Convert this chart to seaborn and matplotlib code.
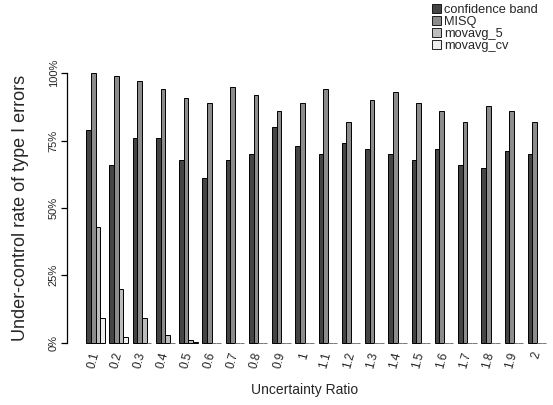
import matplotlib
matplotlib.use("Agg")
import matplotlib.pyplot as plt
import seaborn as sns
import pandas as pd
from matplotlib.patches import Patch

ratios = ["0.1", "0.2", "0.3", "0.4", "0.5", "0.6", "0.7", "0.8", "0.9", "1",
          "1.1", "1.2", "1.3", "1.4", "1.5", "1.6", "1.7", "1.8", "1.9", "2"]
series = ["confidence band", "MISQ", "movavg_5", "movavg_cv"]
confidence_band = [79, 66, 76, 76, 68, 61, 68, 70, 80, 73, 70, 74, 72, 70, 68, 72, 66, 65, 71, 70]
misq = [100, 99, 97, 94, 91, 89, 95, 92, 86, 89, 94, 82, 90, 93, 89, 86, 82, 88, 86, 82]
movavg_5 = [43, 20, 9, 3, 1, 0, 0, 0, 0, 0, 0, 0, 0, 0, 0, 0, 0, 0, 0, 0]
movavg_cv = [9, 2, 0, 0, 0.3, 0, 0, 0, 0, 0, 0, 0, 0, 0, 0, 0, 0, 0, 0, 0]
colors = ["#444444", "#8c8c8c", "#bdbdbd", "#eeeeee"]

values = [confidence_band, misq, movavg_5, movavg_cv]
rows = []
for s, vals in zip(series, values):
    for r, v in zip(ratios, vals):
        rows.append({"ratio": r, "series": s, "value": v})
df = pd.DataFrame(rows)

sns.set_style("white")
plt.rcParams["font.family"] = ["Liberation Sans", "DejaVu Sans"]

W, H = 553, 405
fig = plt.figure(figsize=(W / 100, H / 100), dpi=100)
left, right = 67 / W, 1.0
bottom, top = (H - 342.7) / H, (H - 73.3) / H
ax = fig.add_axes([left, bottom, right - left, top - bottom])

sns.barplot(data=df, x="ratio", y="value", hue="series", order=ratios,
            hue_order=series, palette=colors, edgecolor="black",
            linewidth=0.7, width=0.8, legend=False, ax=ax)
for p in ax.patches:
    p.set_clip_on(False)
    if p.get_height() == 0:
        p.set_edgecolor("#777777")

ax.set_xlim(-(95.5 - 67) / 23.24, (553 - 95.5) / 23.24)
ax.set_ylim(0, 100)
for s in ["top", "right", "bottom"]:
    ax.spines[s].set_visible(False)
ax.spines["left"].set_bounds(0, 100)
ax.spines["left"].set_linewidth(0.9)
ax.spines["left"].set_color("black")

ax.set_yticks([0, 25, 50, 75, 100])
ax.set_yticklabels(["0%", "25%", "50%", "75%", "100%"], rotation=90,
                   va="center", fontsize=8)
ax.tick_params(axis="y", length=4, width=0.9, color="black", pad=2, left=True)
ax.tick_params(axis="x", length=0, pad=7)
ax.set_xticks(range(len(ratios)))
ax.set_xticklabels(ratios, rotation=75, ha="right", va="center",
                   rotation_mode="anchor", fontsize=8.5)

ax.set_xlabel("")
ax.set_ylabel("")
fig.text(305 / W, 1 - 390 / H, "Uncertainty Ratio", ha="center", va="center",
         fontsize=10)
fig.text(21 / W, 1 - 208 / H, "Under-control rate of type I errors",
         rotation=90, ha="center", va="center", fontsize=13)

handles = [Patch(facecolor=c, edgecolor="black", linewidth=0.6) for c in colors]
fig.legend(handles, series, loc="upper left", bbox_to_anchor=(429 / W, 1 - 1 / H),
           frameon=False, fontsize=9.2, handlelength=0.7, handleheight=0.7,
           handletextpad=0.3, labelspacing=0.02, borderpad=0.2, borderaxespad=0)

fig.savefig("out.png", dpi=100)
